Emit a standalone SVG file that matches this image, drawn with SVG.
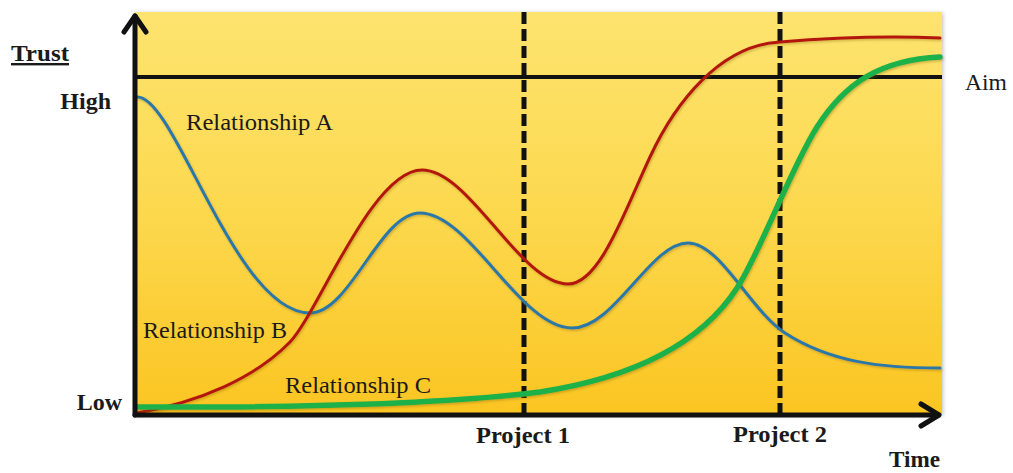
<svg xmlns="http://www.w3.org/2000/svg" width="1013" height="473" viewBox="0 0 1013 473">
  <defs>
    <linearGradient id="bg" x1="0" y1="0" x2="0" y2="1">
      <stop offset="0" stop-color="#FDE46F"/>
      <stop offset="0.5" stop-color="#FCD84E"/>
      <stop offset="1" stop-color="#FBC522"/>
    </linearGradient>
    <filter id="shadow" x="-5%" y="-5%" width="110%" height="110%">
      <feDropShadow dx="1" dy="1" stdDeviation="2" flood-color="#000" flood-opacity="0.25"/>
    </filter>
    <filter id="lshadow" x="-5%" y="-5%" width="110%" height="110%">
      <feDropShadow dx="1" dy="1.5" stdDeviation="1" flood-color="#7a5a00" flood-opacity="0.35"/>
    </filter>
  </defs>
  <style>
    text { font-family: "Liberation Serif", "DejaVu Serif", serif; fill: #1a1a1a; }
    .lbl { font-size: 23px; }
    .bold { font-size: 24px; font-weight: bold; }
    .axis { stroke: #111; stroke-width: 5; fill: none; stroke-linecap: round; stroke-linejoin: round; }
    .dash { stroke: #111; stroke-width: 5; stroke-dasharray: 12 5; fill: none; }
    .curve { fill: none; stroke-linecap: round; filter: url(#lshadow); }
  </style>

  <g id="plot-area">
    <rect x="135" y="12" width="807" height="403" fill="url(#bg)" filter="url(#shadow)"/>
  </g>

  <g id="aim-line">
    <line x1="135" y1="77" x2="942" y2="77" stroke="#111" stroke-width="4"/>
  </g>

  <g id="projects">
    <line class="dash" x1="524" y1="12" x2="524" y2="415"/>
    <line class="dash" x1="780" y1="12" x2="780" y2="415"/>
  </g>

  <g id="connectors">
    <path id="rel-a" class="curve" stroke="#2A78A8" stroke-width="3"
      d="M137,97 C175,95 235,313 310,313 C350,313 380,213 420,213 C470,213 520,328 572,328 C615,328 650,243 688,243 C720,243 750,310 785,333 C830,362 880,368 940,368"/>
    <path id="rel-b" class="curve" stroke="#B3140E" stroke-width="3"
      d="M137,413 C200,402 255,378 290,342 C318,313 372,170 422,170 C470,170 520,284 568,284 C600,284 625,210 650,157 C675,103 720,45 780,42 C840,37 890,36 940,38"/>
    <path id="rel-c" class="curve" stroke="#1DB14A" stroke-width="5.5"
      d="M137,407 C330,408 460,402 540,392 C630,378 700,345 737,288 C760,253 790,170 817,127 C845,83 880,60 940,57"/>
  </g>

  <g id="axes">
    <line class="axis" x1="135" y1="415" x2="135" y2="16"/>
    <polyline class="axis" points="124,32 135,16 146,32"/>
    <line class="axis" x1="135" y1="415" x2="938" y2="415"/>
    <polyline class="axis" points="921,404 939,415 921,426"/>
  </g>

  <g id="labels">
    <text class="bold" x="11" y="61" text-decoration="underline" textLength="58" lengthAdjust="spacingAndGlyphs">Trust</text>
    <text class="bold" x="111" y="109" text-anchor="end">High</text>
    <text class="bold" x="122" y="410" text-anchor="end">Low</text>
    <text class="lbl" x="186" y="130" textLength="147" lengthAdjust="spacingAndGlyphs">Relationship A</text>
    <text class="lbl" x="143" y="338" textLength="144" lengthAdjust="spacingAndGlyphs">Relationship B</text>
    <text class="lbl" x="285" y="393" textLength="146" lengthAdjust="spacingAndGlyphs">Relationship C</text>
    <text class="lbl" x="965" y="90" textLength="42" lengthAdjust="spacingAndGlyphs">Aim</text>
    <text class="bold" x="476" y="443" textLength="94" lengthAdjust="spacingAndGlyphs">Project 1</text>
    <text class="bold" x="733" y="442" textLength="94" lengthAdjust="spacingAndGlyphs">Project 2</text>
    <text class="bold" x="889" y="467" textLength="51" lengthAdjust="spacingAndGlyphs">Time</text>
  </g>
</svg>
